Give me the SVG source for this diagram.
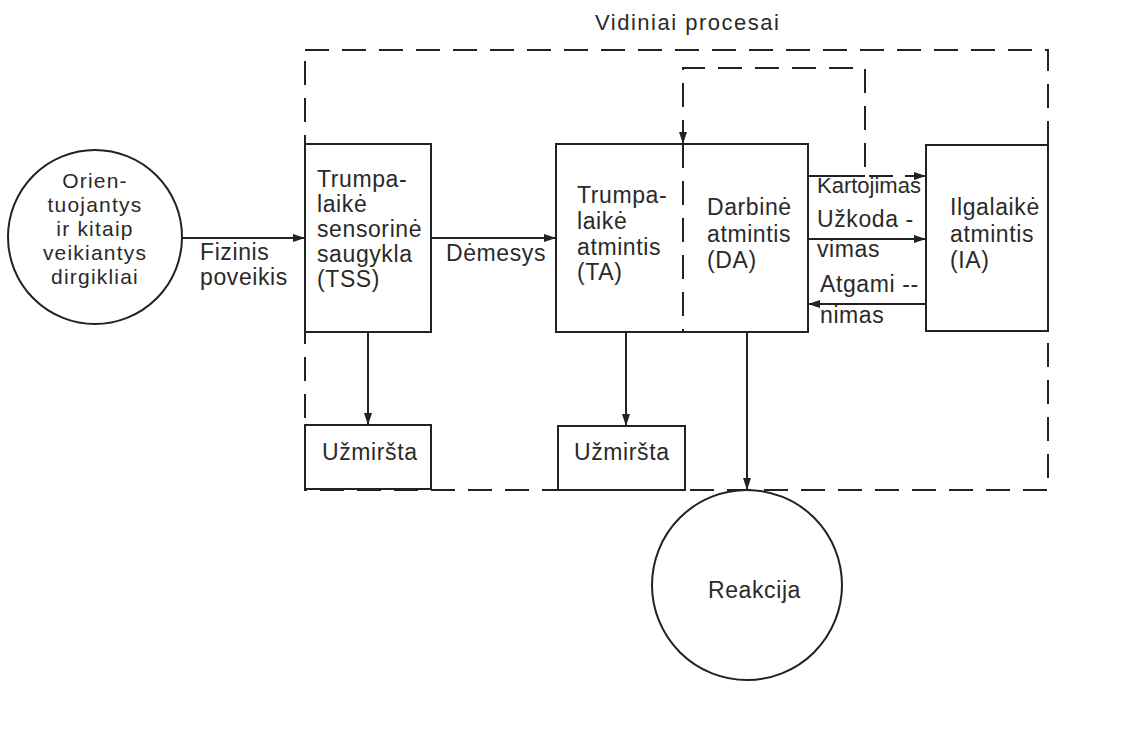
<svg xmlns="http://www.w3.org/2000/svg" width="1125" height="733" viewBox="0 0 1125 733">
<defs>
<style>
text{font-family:"Liberation Sans",Arial,sans-serif;font-size:23px;fill:#2a2a2a;letter-spacing:0.6px}
.ctext{font-size:21px;letter-spacing:1.2px}
.box{fill:#fff;stroke:#222;stroke-width:2}
.ln{fill:none;stroke:#222;stroke-width:2}
.dash{fill:none;stroke:#222;stroke-width:2;stroke-dasharray:24 13}
</style>
<marker id="ah" viewBox="0 0 12 8" refX="12" refY="4" markerWidth="12" markerHeight="8" markerUnits="userSpaceOnUse" orient="auto">
<path d="M0,0 L12,4 L0,8 z" fill="#222"/>
</marker>
</defs>
<rect width="1125" height="733" fill="#fff"/>
<text x="595" y="30" style="font-size:22px;letter-spacing:1.5px">Vidiniai procesai</text>
<g id="boundary">
<rect class="dash" x="305" y="50" width="743" height="440"/>
</g>
<g id="connectors">
<line class="ln" x1="182" y1="238" x2="305" y2="238" marker-end="url(#ah)"/>
<line class="ln" x1="431" y1="238" x2="556" y2="238" marker-end="url(#ah)"/>
<line class="ln" x1="808" y1="176" x2="865" y2="176"/>
<polyline class="dash" points="683,144 683,68 865,68 865,176 926,176" stroke-dasharray="20 12"/>
<line class="ln" x1="905" y1="176" x2="926" y2="176" marker-end="url(#ah)"/>
<line class="ln" x1="683" y1="120" x2="683" y2="144" marker-end="url(#ah)"/>
<line class="ln" x1="808" y1="239" x2="926" y2="239" marker-end="url(#ah)"/>
<line class="ln" x1="926" y1="304" x2="808" y2="304" marker-end="url(#ah)"/>
<line class="ln" x1="368" y1="332" x2="368" y2="425" marker-end="url(#ah)"/>
<line class="ln" x1="626" y1="332" x2="626" y2="426" marker-end="url(#ah)"/>
<line class="ln" x1="747" y1="332" x2="747" y2="490" marker-end="url(#ah)"/>
<text x="200" y="260">Fizinis</text>
<text x="200" y="285">poveikis</text>
<text x="446" y="261">Dėmesys</text>
<text x="817" y="193" style="font-size:22px;letter-spacing:0">Kartojimas</text>
<text x="817" y="227">Užkoda -</text>
<text x="817" y="257">vimas</text>
<text x="820" y="292">Atgami --</text>
<text x="820" y="323">nimas</text>
</g>
<g id="stimuli">
<circle class="box" cx="95" cy="237" r="87"/>
<text class="ctext" text-anchor="middle" x="95" y="188">Orien-</text>
<text class="ctext" text-anchor="middle" x="95" y="212">tuojantys</text>
<text class="ctext" text-anchor="middle" x="95" y="236">ir kitaip</text>
<text class="ctext" text-anchor="middle" x="95" y="260">veikiantys</text>
<text class="ctext" text-anchor="middle" x="95" y="284">dirgikliai</text>
</g>
<g id="tss">
<rect class="box" x="305" y="144" width="126" height="188"/>
<text x="317" y="187">Trumpa-</text>
<text x="317" y="212">laikė</text>
<text x="317" y="237">sensorinė</text>
<text x="317" y="262">saugykla</text>
<text x="317" y="287">(TSS)</text>
</g>
<g id="ta">
<rect class="box" x="556" y="144" width="252" height="188"/>
<line class="dash" x1="683" y1="144" x2="683" y2="332" stroke-dasharray="20 12"/>
<text x="577" y="203">Trumpa-</text>
<text x="577" y="229">laikė</text>
<text x="577" y="255">atmintis</text>
<text x="577" y="280">(TA)</text>
</g>
<g id="da">
<text x="707" y="215">Darbinė</text>
<text x="707" y="242">atmintis</text>
<text x="707" y="268">(DA)</text>
</g>
<g id="ia">
<rect class="box" x="926" y="145" width="122" height="186"/>
<text x="950" y="215">Ilgalaikė</text>
<text x="950" y="242">atmintis</text>
<text x="950" y="268">(IA)</text>
</g>
<g id="forgot1">
<rect class="box" x="305" y="425" width="126" height="64"/>
<text x="322" y="460">Užmiršta</text>
</g>
<g id="forgot2">
<rect class="box" x="558" y="426" width="127" height="64"/>
<text x="574" y="460">Užmiršta</text>
</g>
<g id="reaction">
<circle class="box" cx="747" cy="585" r="95"/>
<text x="708" y="598">Reakcija</text>
</g>
</svg>
